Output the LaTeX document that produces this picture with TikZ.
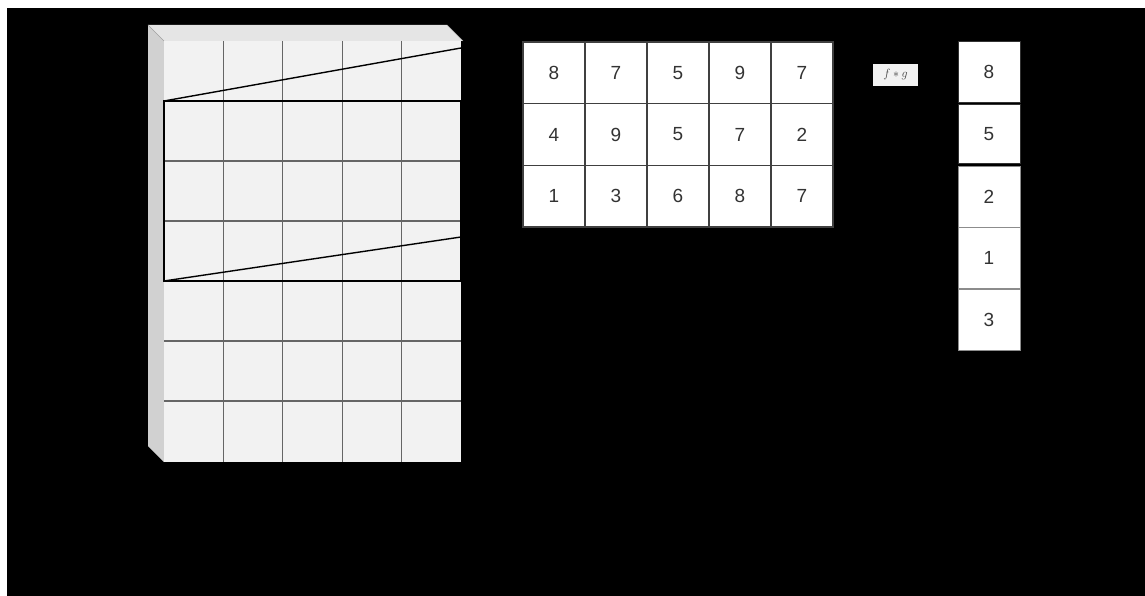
\documentclass[tikz,border=0pt]{standalone}
\usepackage{fontspec}
\setmainfont{Liberation Sans}
\begin{document}
\begin{tikzpicture}[x=1pt,y=-1pt,
  gridline/.style={draw=black!60, line width=1.2pt},
  cell/.style={draw=black!75, fill=white, line width=1.4pt, minimum width=62pt, minimum height=61.7pt, inner sep=0pt, font=\fontsize{19}{19}\selectfont, text=black!80},
  colcell/.style={draw=black!45, fill=white, line width=1pt, minimum width=62pt, minimum height=61pt, inner sep=0pt, font=\fontsize{19}{19}\selectfont, text=black!80},
  hiline/.style={draw=black, line width=1.8pt},
  label/.style={fill=white!95!black, inner sep=1pt, minimum width=45pt, minimum height=22pt, font=\fontsize{13}{13}\selectfont, text=black!75}
]
\useasboundingbox (0,0) rectangle (1145,596);
\fill[white] (0,0) rectangle (1145,596);
\fill[black] (7,8) rectangle (1145,596);
% extruded block
\fill[black!18] (148,25) -- (164,41) -- (164,462) -- (148,446) -- cycle;
\fill[black!10] (148,25) -- (447,25) -- (463,41) -- (164,41) -- cycle;
\draw[black!35, line width=0.6pt] (164,41) -- (148,25) (447,25) -- (463,41);
\fill[black!5] (164,41) rectangle (461,462);
\foreach \x in {223.4,282.8,342.2,401.6} \draw[gridline] (\x,41) -- (\x,462);
\foreach \y in {101,161,221,281,341,401} \draw[gridline] (164,\y) -- (461,\y);
% highlighted window and projection lines
\draw[hiline] (164,101) rectangle (461,281);
\coordinate (wtl) at (164,101);
\coordinate (wbl) at (164,281);
\coordinate (pt) at (461,48);
\coordinate (pb) at (461,237);
\draw[black, line width=1.4pt] (wtl) -- (pt);
\draw[black, line width=1.4pt] (wbl) -- (pb);
% matrix
\foreach \row [count=\j from 0] in {{8,7,5,9,7},{4,9,5,7,2},{1,3,6,8,7}} {
  \foreach \v [count=\i from 0] in \row {
    \node[cell] (m\j\i) at ({554+62*\i},{72.85+61.7*\j}) {\v};
  }
}
% operation label
\node[label] (op) at (895.5,75) {$f*g$};
% output column
\node[colcell, draw=black!80] (c0) at (989,72) {8};
\node[colcell, draw=black!80, minimum height=59pt] (c1) at (989,134) {5};
\node[colcell] (c2) at (989,197) {2};
\node[colcell] (c3) at (989,258) {1};
\node[colcell] (c4) at (989,319.5) {3};
\end{tikzpicture}
\end{document}
